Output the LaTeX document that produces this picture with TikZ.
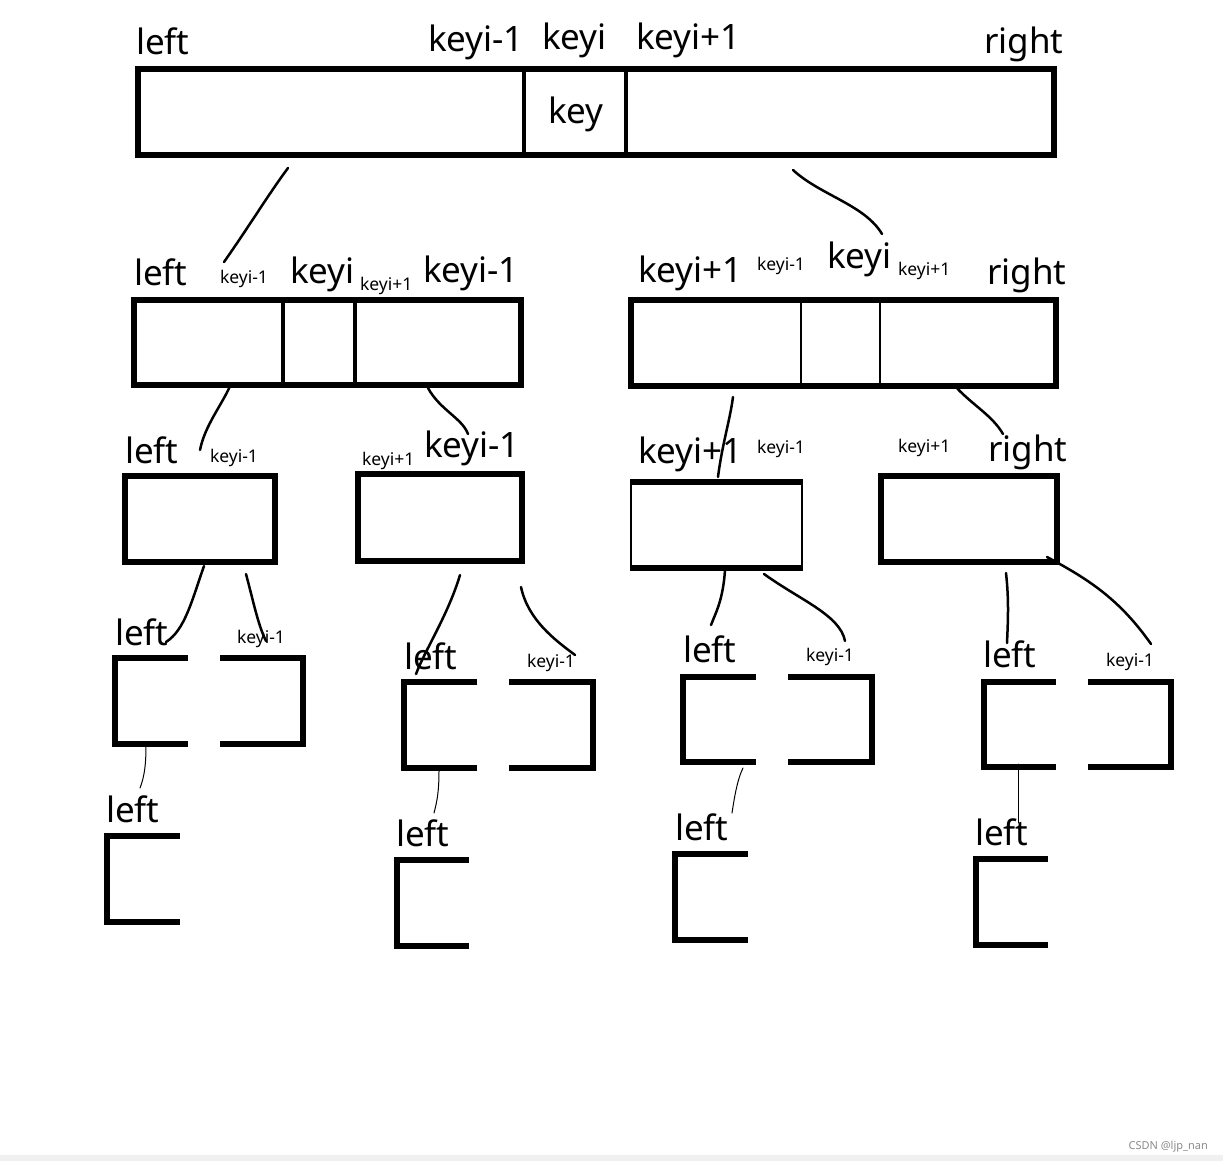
\documentclass[tikz,border=0pt]{standalone}
\usepackage{fontspec}
\setmainfont{Noto Sans}
\begin{document}
\begin{tikzpicture}[x=1pt,y=-1pt,
  boxline/.style={line width=5.5pt},
  divline/.style={line width=3.5pt},
  thinside/.style={line width=2.8pt},
  link/.style={line width=2.5pt,line cap=round},
  thinlink/.style={line width=1pt,line cap=round},
  big/.style={font=\fontsize{35}{40}\selectfont,inner sep=0pt,outer sep=0pt,anchor=base west},
  small/.style={font=\fontsize{17.5}{20}\selectfont,inner sep=0pt,outer sep=0pt,anchor=base west}]
\useasboundingbox (0,0) rectangle (1223,1161);
\fill[white] (0,0) rectangle (1223,1161);
\fill[black!6] (0,1155) rectangle (1223,1161);
\node[font=\fontsize{11}{13}\selectfont,text=black!45,inner sep=0pt,anchor=base east] (wm) at (1208,1149) {CSDN @ljp\_nan};

% ---------- level 1 ----------
\draw[boxline] (138,69) rectangle (1054,155);
\draw[divline] (524,67) -- (524,155);
\draw[divline] (626,69) -- (626,155);
\node[big] (l1a) at (136,55) {left};
\node[big] (l1b) at (428,52) {keyi-1};
\node[big] (l1c) at (542,50) {keyi};
\node[big] (l1d) at (636,50) {keyi+1};
\node[big] (l1e) at (984,54) {right};
\node[big] (l1k) at (548,124) {key};

% ---------- level 2 ----------
\draw[boxline] (134,300) rectangle (521,385);
\draw[divline] (283,300) -- (283,385);
\draw[divline] (355,300) -- (355,385);
\node[big] (l2a) at (134,285) {left};
\node[small] (l2b) at (220,283) {keyi-1};
\node[big] (l2c) at (290,283) {keyi};
\node[small] (l2d) at (360,290) {keyi+1};
\node[big] (l2e) at (423,282) {keyi-1};

\draw[boxline] (631,300) rectangle (1056,386);
\draw[thinside] (801,300) -- (801,386);
\draw[thinside] (880,300) -- (880,386);
\node[big] (r2a) at (638,282) {keyi+1};
\node[small] (r2b) at (757,270) {keyi-1};
\node[big] (r2c) at (827,268) {keyi};
\node[small] (r2d) at (898,275) {keyi+1};
\node[big] (r2e) at (987,284) {right};

% ---------- level 3 ----------
\draw[boxline] (125,476) rectangle (275,562);
\node[big] (a3a) at (125,463) {left};
\node[small] (a3b) at (210,462) {keyi-1};

\draw[boxline] (358,474) rectangle (522,561);
\node[small] (b3a) at (362,465) {keyi+1};
\node[big] (b3b) at (424,457) {keyi-1};

\draw[boxline] (630,482) -- (803,482);
\draw[boxline] (630,568) -- (803,568);
\draw[thinside] (631,482) -- (631,568);
\draw[thinside] (802,482) -- (802,568);
\node[big] (c3a) at (638,463) {keyi+1};
\node[small] (c3b) at (757,453) {keyi-1};

\draw[boxline] (881,476) rectangle (1057,562);
\node[small] (d3a) at (898,452) {keyi+1};
\node[big] (d3b) at (988,461) {right};

% ---------- level 4 ----------
\draw[boxline] (188,658) -- (115,658) -- (115,744) -- (188,744);
\draw[boxline] (220,658) -- (303,658) -- (303,744) -- (220,744);
\node[big] (p4a) at (115,645) {left};
\node[small] (p4b) at (237,643) {keyi-1};

\draw[boxline] (477,682) -- (404,682) -- (404,768) -- (477,768);
\draw[boxline] (509,682) -- (593,682) -- (593,768) -- (509,768);
\node[big] (q4a) at (404,669) {left};
\node[small] (q4b) at (527,667) {keyi-1};

\draw[boxline] (756,677) -- (683,677) -- (683,762) -- (756,762);
\draw[boxline] (788,677) -- (872,677) -- (872,762) -- (788,762);
\node[big] (s4a) at (683,662) {left};
\node[small] (s4b) at (806,661) {keyi-1};

\draw[boxline] (1056,682) -- (984,682) -- (984,767) -- (1056,767);
\draw[boxline] (1088,682) -- (1171,682) -- (1171,767) -- (1088,767);
\node[big] (u4a) at (983,667) {left};
\node[small] (u4b) at (1106,666) {keyi-1};

% ---------- level 5 ----------
\draw[boxline] (180,836) -- (107,836) -- (107,922) -- (180,922);
\node[big] (p5) at (106,822) {left};
\draw[boxline] (469,860) -- (397,860) -- (397,946) -- (469,946);
\node[big] (q5) at (396,846) {left};
\draw[boxline] (748,854) -- (675,854) -- (675,940) -- (748,940);
\node[big] (s5) at (675,840) {left};
\draw[boxline] (1048,859) -- (976,859) -- (976,945) -- (1048,945);
\node[big] (u5) at (975,845) {left};

% ---------- connector end points ----------
\coordinate (c1s) at (288,168);  \coordinate (c1e) at (224,262);
\coordinate (c2s) at (793,170);  \coordinate (c2e) at (882,234);
\coordinate (c3s) at (231,384);  \coordinate (c3e) at (200,450);
\coordinate (c4s) at (428,388);  \coordinate (c4e) at (468,434);
\coordinate (c5s) at (733,397);  \coordinate (c5e) at (718,477);
\coordinate (c6s) at (954,385);  \coordinate (c6e) at (1003,434);
\coordinate (c7s) at (204,566);  \coordinate (c7e) at (166,642);
\coordinate (c8s) at (246,574);  \coordinate (c8e) at (266,641);
\coordinate (c9s) at (460,575);  \coordinate (c9e) at (416,674);
\coordinate (c10s) at (521,587); \coordinate (c10e) at (575,655);
\coordinate (c11s) at (725,570); \coordinate (c11e) at (711,625);
\coordinate (c12s) at (764,574); \coordinate (c12e) at (845,641);
\coordinate (c13s) at (1006,573);\coordinate (c13e) at (1007,643);
\coordinate (c14s) at (1047,557);\coordinate (c14e) at (1151,644);
\coordinate (c15s) at (146,746); \coordinate (c15e) at (140,788);
\coordinate (c16s) at (439,771); \coordinate (c16e) at (434,813);
\coordinate (c17s) at (743,768); \coordinate (c17e) at (732,813);
\coordinate (c18s) at (1018,764);\coordinate (c18e) at (1018,823);

% ---------- connectors ----------
\draw[link] (c1s) .. controls (268,195) and (250,225) .. (c1e);
\draw[link] (c2s) .. controls (820,195) and (865,205) .. (c2e);
\draw[link] (c3s) .. controls (222,405) and (205,425) .. (c3e);
\draw[link] (c4s) .. controls (440,410) and (462,418) .. (c4e);
\draw[link] (c5s) .. controls (730,420) and (722,445) .. (c5e);
\draw[link] (c6s) .. controls (972,405) and (992,415) .. (c6e);
\draw[link] (c7s) .. controls (192,600) and (185,630) .. (c7e);
\draw[link] (c8s) .. controls (253,600) and (258,625) .. (c8e);
\draw[link] (c9s) .. controls (448,615) and (425,650) .. (c9e);
\draw[link] (c10s) .. controls (528,620) and (555,640) .. (c10e);
\draw[link] (c11s) .. controls (723,600) and (716,612) .. (c11e);
\draw[link] (c12s) .. controls (800,600) and (840,615) .. (c12e);
\draw[link] (c13s) .. controls (1009,600) and (1008,620) .. (c13e);
\draw[link] (c14s) .. controls (1090,580) and (1120,600) .. (c14e);
\draw[thinlink] (c15s) .. controls (146,770) and (143,780) .. (c15e);
\draw[thinlink] (c16s) .. controls (439,795) and (436,805) .. (c16e);
\draw[thinlink] (c17s) .. controls (737,780) and (734,800) .. (c17e);
\draw[thinlink] (c18s) -- (c18e);
\end{tikzpicture}
\end{document}
